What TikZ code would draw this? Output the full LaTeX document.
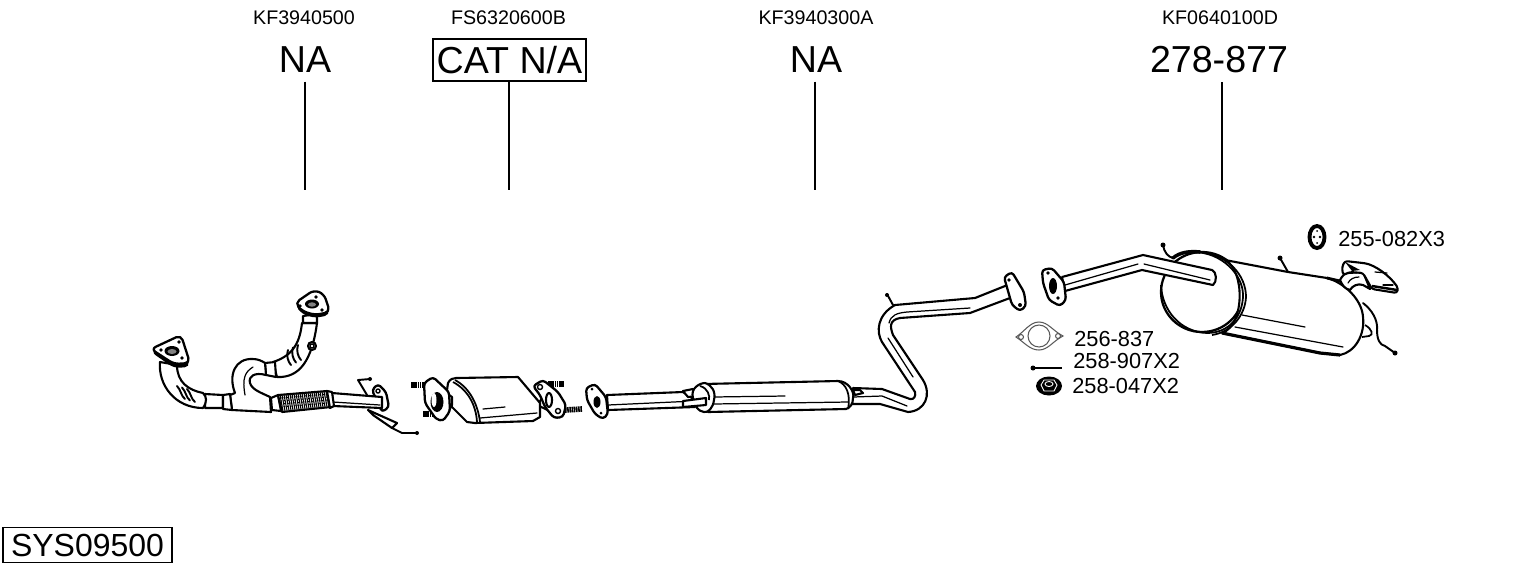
\documentclass[tikz,border=0pt]{standalone}
\usepackage{fontspec}
\setmainfont{Liberation Sans}
\begin{document}
\begin{tikzpicture}[
  x=0.02cm,y=-0.02cm,
  codeLabel/.style={font=\fontsize{11.2pt}{13pt}\selectfont,inner sep=0pt},
  priceLabel/.style={font=\fontsize{21.4pt}{24pt}\selectfont,inner sep=0pt},
  priceBox/.style={draw,line width=0.8pt,font=\fontsize{21.4pt}{24pt}\selectfont,inner sep=0pt,minimum width=3.06cm,minimum height=0.84cm},
  sysBox/.style={draw,line width=0.8pt,font=\fontsize{18.2pt}{20pt}\selectfont,inner sep=0pt,minimum width=3.38cm,minimum height=0.7cm},
  partLabel/.style={font=\fontsize{12.4pt}{14pt}\selectfont,inner sep=0pt,anchor=west},
  leader/.style={line width=0.8pt},
  part/.style={draw,fill=white,line width=1.2pt,line join=round},
  flange/.style={part,rounded corners=1.8pt,line width=1.3pt},
  triFlange/.style={part,rounded corners=3pt,line width=1.3pt},
  wire/.style={line width=1.1pt,line cap=round,line join=round},
  thinLine/.style={line width=0.7pt,line cap=round},
  dot/.style={fill=black,draw=none},
  thread/.style={line width=3.2pt,dash pattern=on 0.9pt off 0.35pt}]

  \useasboundingbox (0,0) rectangle (1530,566);

  % Labels and leader lines
  \node[codeLabel] (cFront) at (304,18) {KF3940500};
  \node[codeLabel] (cCat) at (508.5,18) {FS6320600B};
  \node[codeLabel] (cCentre) at (816,18) {KF3940300A};
  \node[codeLabel] (cRear) at (1220,18) {KF0640100D};
  \node[priceLabel] (pFront) at (305,60) {NA};
  \node[priceBox] (pCat) at (509.5,60) {CAT N/A};
  \node[priceLabel] (pCentre) at (816,60) {NA};
  \node[priceLabel] (pRear) at (1219,60) {278-877};
  \node[sysBox] (sys) at (87.5,545) {SYS09500};
  \node[partLabel] (lRing) at (1338,239) {255-082X3};
  \node[partLabel] (lGasket) at (1074,339) {256-837};
  \node[partLabel] (lBolt) at (1073,361) {258-907X2};
  \node[partLabel] (lNut) at (1072,386) {258-047X2};

  \coordinate (tFront) at (305,190);
  \coordinate (tCat) at (509,190);
  \coordinate (tCentre) at (815,190);
  \coordinate (tRear) at (1222,190);
  \draw[leader,shorten <=4.8pt] (pFront.south) -- (tFront);
  \draw[leader] (pCat.south -| tCat) -- (tCat);
  \draw[leader,shorten <=4.8pt] (pCentre.south -| tCentre) -- (tCentre);
  \draw[leader,shorten <=4.8pt] (pRear.south -| tRear) -- (tRear);

  % Front pipe
  \draw[wire] (370,379) -- (358,380) -- (367,395);
  \fill[dot] (370,379) circle (2);
  \path[part] (368,410) -- (397,423) -- (392,428) -- (373,415) -- cycle;
  \draw[wire] (392,428) -- (402,433) -- (417,433);
  \fill[dot] (417,433) circle (2);
  \path[flange] (372,390) -- (378,384) -- (386,392) -- (389,407) -- (382,412) -- cycle;
  \draw[line width=0.8pt] (378,391) circle (2);
  \path[part] (332,393) -- (382,397) -- (382,408) -- (333,406) -- cycle;
  \draw[thinLine] (333,402) -- (380,405);
  % upper branch
  \path[part] (302,323) .. controls (300,340) and (295,355) .. (273,362) -- (277,377)
    .. controls (300,378) and (312,360) .. (317,323) -- cycle;
  \foreach \rx in {0,5,10} {
    \draw[wire] (288+\rx,350-\rx*0.5) .. controls (286+\rx,355-\rx*0.5) and (288+\rx,362-\rx*0.5) .. (291+\rx,365-\rx*0.5);
  }
  \path[part] (303,323) -- (303,316) -- (317,314) -- (317,323) -- cycle;
  \fill[dot,rounded corners=3pt] (295,305) -- (314,290) -- (324,294) -- (330,315) -- (315,318) -- (302,314) -- cycle;
  \path[triFlange] (295,303) -- (314,290) -- (324,294) -- (330,312) -- (315,315) -- (302,311) -- cycle;
  \fill[dot] (312,304) ellipse (7 and 4.5);
  \fill[gray] (312,304.5) ellipse (4 and 2.2);
  \foreach \hx/\hy in {300/306,316/297,322/310} {
    \fill[dot] (\hx,\hy) circle (1.8);
  }
  \path[part] (312,346) circle (4);
  \draw[line width=0.8pt] (312,346) circle (2);
  % u-bend and body
  \path[part] (265,363) -- (275,362) -- (276,377) -- (266,375) -- cycle;
  \path[part] (230,395) -- (235,393) .. controls (228,375) and (235,358) .. (253,359)
    .. controls (258,359) and (262,361) .. (265,363) -- (266,375)
    .. controls (255,372) and (248,376) .. (250,383)
    .. controls (252,390) and (262,393) .. (270,397) -- (271,412) -- (232,410) -- cycle;
  \draw[thinLine] (245,395) .. controls (242,378) and (245,372) .. (253,367);
  \path[part] (271,398) -- (278,395) -- (281,411) -- (272,410) -- cycle;
  % left bend
  \path[part] (205,394) -- (223,395) -- (223,408) -- (205,408) -- cycle;
  \path[part] (160,362) .. controls (158,385) and (175,408) .. (203,408)
    .. controls (207,402) and (207,397) .. (203,393)
    .. controls (188,390) and (177,382) .. (177,365) -- cycle;
  \foreach \rx in {0,5,10} {
    \draw[wire] (177+\rx,386+\rx*0.3) .. controls (181+\rx,390+\rx*0.3) and (181+\rx,396+\rx*0.3) .. (185+\rx,399+\rx*0.3);
  }
  \fill[dot,rounded corners=3pt] (151,352) -- (181,337) -- (190,367) -- (174,368) -- cycle;
  \path[triFlange] (151,349) -- (181,335) -- (190,363) -- (174,364) -- cycle;
  \fill[dot] (172,351) ellipse (7.5 and 5);
  \fill[gray] (172,351.5) ellipse (4.5 and 2.5);
  \foreach \hx/\hy in {161/350,179/342,182/358} {
    \fill[dot] (\hx,\hy) circle (1.8);
  }
  \path[part] (223,395) -- (230,394) -- (232,410) -- (223,409) -- cycle;
  % flexible section
  \path[part] (278,395) -- (327,391) -- (331,407) -- (282,412) -- cycle;
  \foreach \fx in {0,2,...,46} {
    \draw[line width=0.6pt] (280+\fx,395-\fx*0.08) -- (283+\fx,411-\fx*0.1);
  }
  \foreach \fy in {3,6,9,12} {
    \draw[line width=0.5pt,dash pattern=on 1pt off 1pt] (280,395+\fy) -- (328,391+\fy);
  }
  \path[part] (327,391) -- (332,392) -- (334,406) -- (330,408) -- cycle;

  % Catalytic converter
  \foreach \bx/\by/\ex/\ey in {411/385/430/385,423/414/442/414,548/384/564/384,565/410/582/409} {
    \draw[thread] (\bx,\by) -- (\ex,\ey);
  }
  \path[part] (537,405) -- (550,388) -- (560,395) -- (552,412) -- cycle;
  \path[flange] (533,386) -- (543,380) -- (558,392) -- (566,405) -- (563,417) -- (554,418) -- (545,407) -- (540,395) -- cycle;
  \draw[line width=0.8pt] (540,387) circle (2.5);
  \draw[line width=0.8pt] (558,411) circle (2.5);
  \path[part] (549,400) ellipse (3 and 7);
  \path[part] (448,383) .. controls (450,379) and (453,378) .. (456,378) -- (518,377) -- (540,403) -- (540,417)
    -- (533,421) -- (475,423) -- (467,422) -- (452,407) -- (447,390) -- cycle;
  \draw[line width=1pt] (455,380) .. controls (470,388) and (478,405) .. (480,422);
  \draw[line width=1pt] (453,382) .. controls (468,390) and (476,405) .. (477,422);
  \draw[thinLine] (483,409) -- (505,407);
  \draw[thinLine] (480,418) -- (537,413);
  \path[part] (445,392) -- (452,397) -- (452,405) -- (447,414) -- cycle;
  \path[flange] (424,383) -- (433,377) -- (449,392) -- (450,411) -- (443,421) -- (436,419) -- (425,403) -- cycle;
  \fill[dot] (437,402) ellipse (6.5 and 10);
  \fill[white] (434,400) ellipse (2.5 and 7);

  % Centre pipe
  \path[part] (607,395) -- (683,392) -- (695,400) -- (695,407) -- (608,410) -- cycle;
  \draw[thinLine] (608,405) -- (695,401);
  \path[part] (683,391) -- (693,389) -- (697,396) -- (688,397) -- cycle;
  \path[flange] (586,388) -- (595,384) -- (606,397) -- (608,414) -- (603,419) -- (595,414) -- (587,400) -- cycle;
  \fill[dot] (597,402) ellipse (3.5 and 6);
  \fill[dot] (592,389) circle (1.5);
  \fill[dot] (601,413) circle (1.5);
  \path[part] (853,388) -- (882,389) -- (910,399) .. controls (914,400) and (916,396) .. (915,392)
    -- (882,342) .. controls (876,332) and (877,315) .. (895,305) -- (975,298) -- (1010,284)
    -- (1018,295) -- (970,313) -- (900,318) .. controls (889,320) and (890,327) .. (893,335)
    -- (923,380) .. controls (932,395) and (925,411) .. (908,412)
    -- (880,404) -- (852,404) -- cycle;
  \draw[thinLine] (853,397) -- (882,396) -- (907,406);
  \draw[thinLine] (888,338) -- (913,377);
  \draw[thinLine] (889,323) .. controls (891,315) and (897,313) .. (907,312) -- (970,308);
  \draw[wire] (887,294) -- (893,305);
  \fill[dot] (887,295) circle (2);
  \path[part] (703,384) -- (838,381) .. controls (848,381) and (855,392) .. (853,398)
    .. controls (853,404) and (850,408) .. (846,409) -- (708,412) -- cycle;
  \draw[thinLine] (713,397) -- (785,396);
  \draw[thinLine] (713,404) -- (848,402);
  \draw[line width=1pt] (838,381) .. controls (846,384) and (851,394) .. (848,409);
  \path[part] (693,398) .. controls (690,388) and (700,383) .. (705,383)
    .. controls (712,385) and (716,392) .. (714,400)
    .. controls (713,408) and (708,413) .. (704,412)
    .. controls (698,411) and (695,407) .. (693,398) -- cycle;
  \path[part] (683,401) -- (706,398) -- (706,405) -- (683,407) -- cycle;
  \draw[line width=1pt] (700,386) .. controls (708,388) and (710,396) .. (709,400);
  \path[part] (853,390) -- (860,390) -- (863,393) -- (855,395) -- cycle;
  \path[flange] (1004,277) -- (1012,272) -- (1024,292) -- (1026,306) -- (1020,311) -- (1012,305) -- cycle;
  \fill[dot] (1009,280) circle (1.8);
  \fill[dot] (1020,305) circle (2);

  % Rear silencer
  \draw[wire] (1163,245) .. controls (1164,252) and (1168,257) .. (1173,258);
  \fill[dot] (1163,245) circle (2.5);
  \path[part,line width=1.3pt] (1202,292) ellipse (41 and 40);
  \path[part] (1225,260) -- (1288,272) -- (1327,278) .. controls (1345,283) and (1362,300) .. (1363,317)
    .. controls (1365,335) and (1355,352) .. (1340,355) -- (1320,353) -- (1222,333)
    .. controls (1245,325) and (1245,270) .. (1225,260) -- cycle;
  \draw[line width=1.8pt] (1222,333) -- (1320,353) -- (1340,355);
  \draw[thinLine] (1242,315) -- (1305,327);
  \draw[thinLine] (1235,327) -- (1343,347);
  \draw[line width=1pt] (1161,285) .. controls (1162,310) and (1180,332) .. (1207,333)
    .. controls (1230,333) and (1243,315) .. (1243,295)
    .. controls (1243,275) and (1222,252) .. (1193,252);
  \draw[line width=1pt] (1200,252) .. controls (1228,255) and (1246,275) .. (1246,297)
    .. controls (1245,315) and (1232,332) .. (1212,335);
  \draw[wire,line width=2pt] (1173,258) .. controls (1180,252) and (1190,251) .. (1200,252);
  \draw[wire,line width=1.6pt] (1327,278) -- (1340,281);
  \draw[wire] (1280,258) -- (1288,272);
  \fill[dot] (1280,258) circle (2.5);
  \draw[wire] (1363,303) .. controls (1372,310) and (1378,320) .. (1377,330) .. controls (1377,340) and (1380,345) .. (1385,346) -- (1395,353);
  \fill[dot] (1395,353) circle (2.5);
  \draw[line width=1pt] (1365,325) .. controls (1372,329) and (1374,335) .. (1369,336) -- (1362,337);
  % tail pipe
  \path[part] (1340,280) .. controls (1342,276) and (1345,273) .. (1348,273) -- (1363,272) -- (1370,289)
    -- (1363,285) .. controls (1358,283) and (1352,286) .. (1350,290) .. controls (1345,289) and (1342,285) .. (1340,280) -- cycle;
  \draw[thinLine] (1348,283) .. controls (1350,279) and (1354,277) .. (1359,277);
  \path[part,rounded corners=1.5pt] (1342,267) -- (1345,261) -- (1363,263)
    .. controls (1375,265) and (1390,276) .. (1398,288) -- (1397,293) -- (1372,289) -- (1363,273)
    -- (1350,272) -- (1343,275) -- cycle;
  \fill[dot] (1345,262) -- (1360,270) -- (1352,271) -- cycle;
  \draw[line width=1.4pt] (1372,286) -- (1397,290);
  \draw[thinLine] (1375,272) -- (1387,273);
  \draw[thinLine] (1383,285) -- (1393,285);
  % inlet pipe
  \path[part] (1062,277) -- (1143,255) -- (1212,270) .. controls (1217,272) and (1217,282) .. (1213,285)
    -- (1142,270) -- (1065,291) -- cycle;
  \draw[thinLine] (1065,285) -- (1138,264);
  \draw[thinLine] (1144,264) -- (1210,280);
  \path[flange] (1042,270) -- (1052,268) -- (1064,282) -- (1066,300) -- (1060,306) -- (1049,300) -- (1043,283) -- cycle;
  \fill[dot] (1053,286) ellipse (4 and 8);
  \fill[dot] (1048,273) circle (1.8);
  \fill[dot] (1058,298) circle (1.8);

  % Small parts
  \draw[line width=2.2pt] (1317,237) ellipse (7.5 and 11);
  \fill[dot] (1314,237) circle (1.4);
  \fill[dot] (1320,237) circle (1.4);
  \fill[dot] (1317,231) circle (1);
  \fill[dot] (1317,243) circle (1);
  \draw[line width=0.6pt,gray!70!black] (1016,337) .. controls (1025,331) and (1030,322) .. (1039,322)
    .. controls (1048,322) and (1053,331) .. (1063,336)
    .. controls (1053,341) and (1048,350) .. (1039,350)
    .. controls (1030,350) and (1025,343) .. (1016,337) -- cycle;
  \draw[line width=0.6pt,gray!70!black] (1039,336) circle (11);
  \draw[line width=0.6pt,gray!70!black] (1021,337) circle (2.5);
  \draw[line width=0.6pt,gray!70!black] (1058,336) circle (2.5);
  \draw[line width=1.5pt] (1033,368) -- (1062,368);
  \fill[dot] (1033,368) circle (2.5);
  \fill[dot] (1049,386) ellipse (13 and 9.5);
  \draw[white,line width=0.5pt] (1041,385) -- (1044,380) -- (1054,380) -- (1057,385) -- (1054,391) -- (1044,391) -- cycle;
  \draw[white,line width=0.5pt] (1049,384) ellipse (4 and 2.5);
\end{tikzpicture}
\end{document}
